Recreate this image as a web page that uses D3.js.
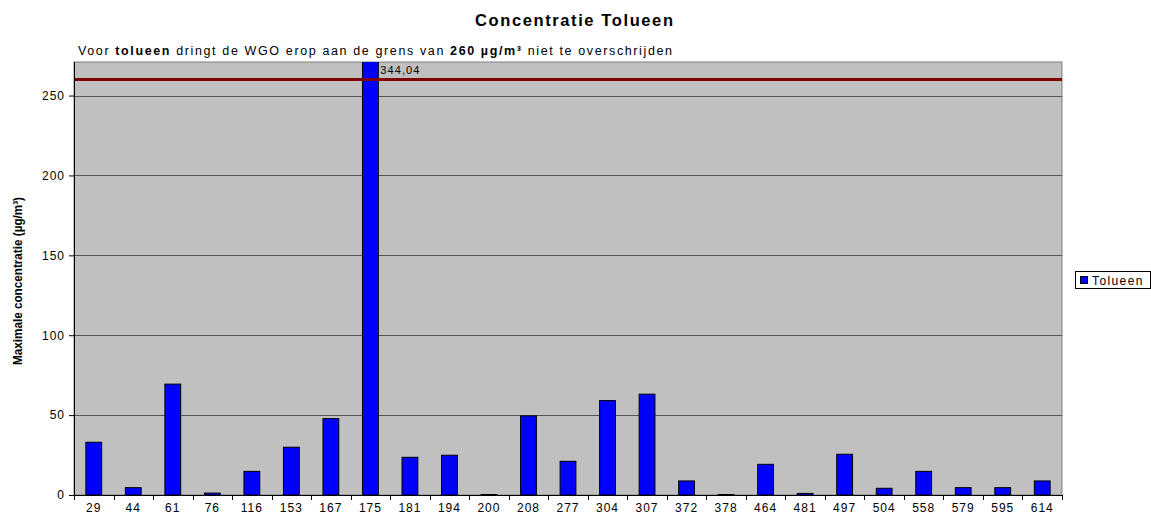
<!DOCTYPE html>
<html>
<head>
<meta charset="utf-8">
<script src="https://cdn.jsdelivr.net/npm/d3@7"></script>
<style>
  body { margin: 0; background: #fff; }
  text { font-family: "Liberation Sans", Arial, sans-serif; }
</style>
</head>
<body>
<div id="chart"></div>
<script>
// data
const sites = ["29","44","61","76","116","153","167","175","181","194","200","208","277","304","307","372","378","464","481","497","504","558","579","595","614"];
const tolueen = [33, 4.6, 69.4, 1.2, 14.8, 29.9, 47.8, 344.04, 23.6, 24.9, 0.3, 49.5, 21.1, 59.1, 63.1, 8.8, 0.3, 19.2, 1.0, 25.5, 4.2, 14.8, 4.6, 4.6, 8.8];
const yTicks = [0, 50, 100, 150, 200, 250];
const limit = 260;

const width = 1151, height = 517;
const margin = { left: 74, right: 89, top: 62, bottom: 22 };

const svg = d3.select("#chart").append("svg")
  .attr("width", width).attr("height", height);

const x = d3.scaleBand().domain(sites)
  .range([margin.left, width - margin.right])
  .paddingInner(0.6).paddingOuter(0.3);
const y = d3.scaleLinear().domain([0, 271])
  .range([height - margin.bottom, margin.top]);

// plot background
svg.append("rect")
  .attr("x", margin.left).attr("y", margin.top)
  .attr("width", width - margin.right - margin.left)
  .attr("height", y(0) - margin.top)
  .attr("fill", "#c0c0c0")
  .attr("stroke", "#808080");

// gridlines
svg.append("g").selectAll("line")
  .data(yTicks.filter(d => d > 0)).enter().append("line")
  .attr("x1", margin.left).attr("x2", width - margin.right)
  .attr("y1", d => Math.round(y(d)) + 0.5).attr("y2", d => Math.round(y(d)) + 0.5)
  .attr("stroke", "#555").attr("stroke-width", 1);

// bars (clipped at top of plot)
svg.append("clipPath").attr("id", "plotclip").append("rect")
  .attr("x", margin.left).attr("y", margin.top)
  .attr("width", width - margin.right - margin.left)
  .attr("height", y(0) - margin.top);

svg.append("g").attr("clip-path", "url(#plotclip)")
  .selectAll("rect").data(tolueen).enter().append("rect")
  .attr("x", (d, i) => x(sites[i]))
  .attr("y", d => y(d))
  .attr("width", x.bandwidth())
  .attr("height", d => y(0) - y(d))
  .attr("fill", "#0000ff")
  .attr("stroke", "#000").attr("stroke-width", 1);

// limit line
svg.append("line")
  .attr("x1", margin.left).attr("x2", width - margin.right)
  .attr("y1", y(limit)).attr("y2", y(limit))
  .attr("stroke", "#800000").attr("stroke-width", 3);

// label for the clipped bar
const maxIdx = tolueen.indexOf(d3.max(tolueen));
svg.append("text")
  .attr("x", x(sites[maxIdx]) + x.bandwidth() + 2)
  .attr("y", margin.top + 12)
  .attr("font-size", 11).attr("letter-spacing", 1.1)
  .text(String(tolueen[maxIdx]).replace(".", ","));

// y axis
const yAxis = svg.append("g")
  .attr("transform", `translate(${margin.left},0)`)
  .call(d3.axisLeft(y).tickValues(yTicks).tickSize(5).tickPadding(4));
yAxis.select(".domain").attr("d", `M0.5,${margin.top}V${y(0)}`);
yAxis.selectAll("text").attr("font-size", 12).attr("letter-spacing", 1)
  .attr("font-family", "Liberation Sans, Arial");

// x axis
const xAxis = svg.append("g")
  .attr("transform", `translate(0,${y(0)})`);
xAxis.append("line")
  .attr("x1", margin.left).attr("x2", width - margin.right)
  .attr("y1", 0.5).attr("y2", 0.5).attr("stroke", "#000");
xAxis.selectAll(".tk").data(d3.range(sites.length + 1)).enter().append("line")
  .attr("x1", i => Math.round(margin.left + i * x.step()) + 0.5)
  .attr("x2", i => Math.round(margin.left + i * x.step()) + 0.5)
  .attr("y1", 0).attr("y2", 5).attr("stroke", "#000");
xAxis.selectAll(".lb").data(sites).enter().append("text")
  .attr("x", d => x(d) + x.bandwidth() / 2)
  .attr("y", 17)
  .attr("text-anchor", "middle")
  .attr("font-size", 12).attr("letter-spacing", 1)
  .text(d => d);

// title
svg.append("text")
  .attr("x", 475).attr("y", 26)
  .attr("font-size", 16.5).attr("font-weight", "bold")
  .attr("textLength", 198).attr("lengthAdjust", "spacing")
  .text("Concentratie Tolueen");

// subtitle
const sub = svg.append("text")
  .attr("x", 78).attr("y", 55).attr("font-size", 12.5)
  .attr("textLength", 594).attr("lengthAdjust", "spacing");
sub.append("tspan").text("Voor ");
sub.append("tspan").attr("font-weight", "bold").text("tolueen");
sub.append("tspan").text(" dringt de WGO erop aan de grens van ");
sub.append("tspan").attr("font-weight", "bold").text("260 µg/m³");
sub.append("tspan").text("  niet te overschrijden");

// y axis title
svg.append("text")
  .attr("transform", `translate(22,281) rotate(-90)`)
  .attr("text-anchor", "middle")
  .attr("font-size", 12).attr("font-weight", "bold")
  .attr("font-family", "Liberation Sans Narrow, Arial Narrow, sans-serif")
  .attr("textLength", 168).attr("lengthAdjust", "spacingAndGlyphs")
  .text("Maximale concentratie (µg/m³)");

// legend
const lg = svg.append("g").attr("transform", "translate(1075,271)");
lg.append("rect").attr("x", 0.5).attr("y", 0.5).attr("width", 75).attr("height", 17)
  .attr("fill", "#fff").attr("stroke", "#000");
lg.append("rect").attr("x", 5.5).attr("y", 5.5).attr("width", 7).attr("height", 7)
  .attr("fill", "#0000ff").attr("stroke", "#000");
lg.append("text").attr("x", 17).attr("y", 13.5).attr("font-size", 12)
  .attr("letter-spacing", 1.4).text("Tolueen");
</script>
</body>
</html>
